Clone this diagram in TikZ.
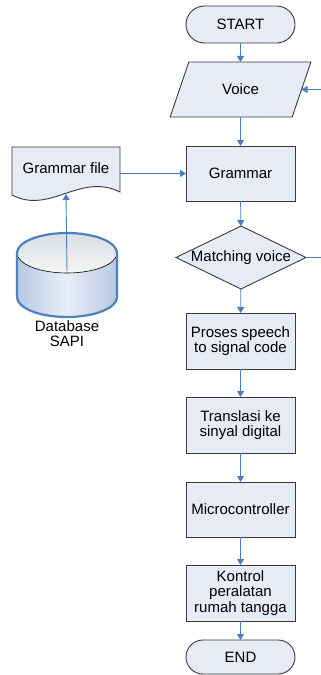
\documentclass[tikz,border=0pt]{standalone}
\usepackage{fontspec}
\setmainfont{Liberation Sans}
\usetikzlibrary{shapes.geometric,shapes.misc,arrows.meta}
\definecolor{fillc}{HTML}{E6EBF5}
\definecolor{edgec}{HTML}{3A3A3A}
\definecolor{arrc}{HTML}{4A7EBB}
\definecolor{cylblue}{HTML}{4F81BD}
\definecolor{cylside}{HTML}{B7C8E2}
\definecolor{cylmid}{HTML}{E9EEF8}
\definecolor{cyltopa}{HTML}{D9DEE2}
\definecolor{cyltopb}{HTML}{F4F6F4}
\begin{document}
\begin{tikzpicture}[x=1pt,y=-1pt,
  every node/.style={font=\fontsize{15}{15.5}\selectfont, align=center, inner sep=0pt, outer sep=0pt},
  shp/.style={draw=edgec, fill=fillc, line width=0.9pt},
  box/.style={shp, minimum width=109pt, minimum height=56pt},
  term/.style={shp, rounded rectangle, minimum width=109pt, minimum height=37pt},
  io/.style={shp, trapezium, trapezium left angle=59, trapezium right angle=121,
    trapezium stretches=true, minimum width=141pt, minimum height=55pt},
  dec/.style={shp, diamond, aspect=2.06, minimum width=130pt, minimum height=63pt},
  flow/.style={draw=arrc, line width=0.9pt, -{Triangle[length=6pt,width=7pt]}}
]
\useasboundingbox (0,0) rectangle (321,675);

% main column
\node[term] (start) at (240.5,24.5) {START};
\node[io] (voice) at (240.5,89.5) {Voice};
\node[box, minimum height=55pt] (grammar) at (240.5,173.5) {Grammar};
\node[dec] (match) at (241,257.5) {Matching voice};
\node[box] (proses) at (240.5,341) {Proses speech\\to signal code};
\node[box] (trans) at (240.5,425) {Translasi ke\\sinyal digital};
\node[box, minimum height=55pt] (micro) at (240.5,509.5) {Microcontroller};
\node[box] (kontrol) at (240.5,593) {Kontrol\\peralatan\\rumah tangga};
\node[term, minimum height=34pt] (end) at (240.5,657) {END};

\draw[flow] (start) -- (voice);
\draw[flow] (voice) -- (grammar);
\draw[flow] (grammar) -- (match);
\draw[flow] (match) -- (proses);
\draw[flow] (proses) -- (trans);
\draw[flow] (trans) -- (micro);
\draw[flow] (micro) -- (kontrol);
\draw[flow] (kontrol) -- (end);

% loop back (vertical part lies beyond the right edge)
\coordinate (loopR) at (326,257.5);
\coordinate (loopT) at (326,89.5);
\draw[flow] (match.east) -- (loopR) -- (loopT) -- (voice.east);

% grammar file (document shape)
\draw[shp] (12,147) -- (120,147) -- (120,192)
  .. controls (80,172) and (50,215) .. (12,195) -- cycle;
\node[minimum width=108pt, minimum height=48pt] (gfile) at (66,171) {\raisebox{6pt}{Grammar file}};
\coordinate (wavept) at (66,194);
\draw[flow] (gfile.east |- grammar.west) -- (grammar.west);

% database cylinder
\shade[left color=cylside, right color=cylside, middle color=cylmid]
  (17,253) -- (17,297) arc[start angle=180, end angle=0, x radius=50, y radius=20] -- (117,253) -- cycle;
\shade[top color=cyltopa, bottom color=cyltopb] (67,253) ellipse [x radius=50, y radius=20];
\draw[black, line width=0.6pt] (17,253) arc[start angle=180, end angle=0, x radius=50, y radius=20];
\draw[cylblue, line width=2.2pt] (17,253) -- (17,297)
  arc[start angle=180, end angle=0, x radius=50, y radius=20] -- (117,253)
  arc[start angle=0, end angle=-180, x radius=50, y radius=20] -- cycle;
\coordinate (dbtop) at (67,271);
\node (dblabel) at (67,333.5) {Database\\SAPI};
\draw[flow] (dbtop) -- (wavept);
\end{tikzpicture}
\end{document}
